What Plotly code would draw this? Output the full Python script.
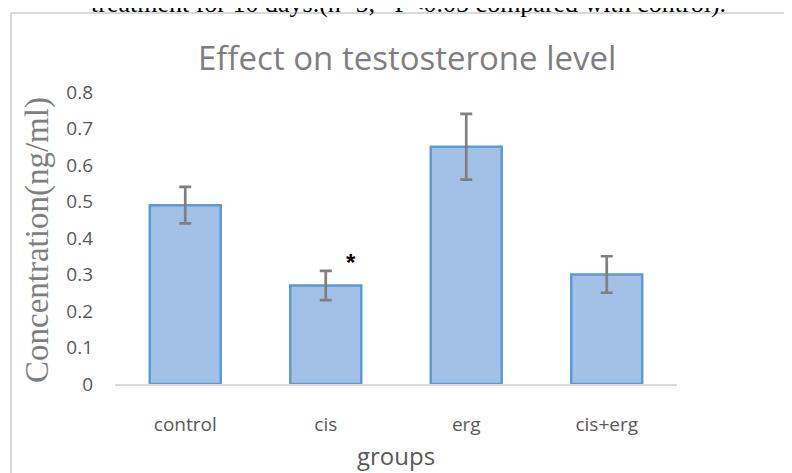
import plotly.graph_objects as go

groups = ["control", "cis", "erg", "cis+erg"]
values = [0.49, 0.27, 0.65, 0.30]
errors = [0.05, 0.04, 0.09, 0.05]
y_ticks = [0, 0.1, 0.2, 0.3, 0.4, 0.5, 0.6, 0.7, 0.8]
y_tick_labels = ["0", "0.1", "0.2", "0.3", "0.4", "0.5", "0.6", "0.7", "0.8"]

W, H = 792, 473
OFF = 8  # page body margin
L, T = 107, 84
pw, ph = 562, 292
R = W - L - pw
B = H - T - ph

def px(x):
    return (x - OFF - L) / pw

def py(y):
    return (T + ph + OFF - y) / ph

fig = go.Figure(go.Bar(
    x=groups, y=values,
    width=0.505,
    marker=dict(color="#a3c1e7", line=dict(color="#5b9bd5", width=2.5)),
    error_y=dict(type="data", array=errors, color="#7f7f7f", thickness=2.7, width=6),
))

fig.update_layout(
    width=W, height=H,
    margin=dict(l=L, r=R, t=T, b=B, autoexpand=False),
    paper_bgcolor="white", plot_bgcolor="white",
    showlegend=False,
    font=dict(family="Open Sans", color="#595959"),
    xaxis=dict(showline=True, linecolor="#d9d9d9", linewidth=2, showgrid=False,
               ticks="", tickfont=dict(size=19, color="#595959"), ticklabelstandoff=22),
    yaxis=dict(range=[0, 0.8], tickvals=y_ticks, ticktext=y_tick_labels,
               showgrid=False, zeroline=False, showline=False,
               tickfont=dict(size=19, color="#595959"), ticks="", ticklabelstandoff=21),
)

fig.add_annotation(x="cis", y=values[1] + errors[1] + 0.023, text="<b>*</b>", showarrow=False,
                   xshift=25, font=dict(family="Liberation Sans", size=24, color="black"))

fig.add_annotation(xref="paper", yref="paper", x=px(407), y=py(57), text="Effect on testosterone level",
                   showarrow=False, xanchor="center", yanchor="middle",
                   font=dict(family="Open Sans", size=33, color="#7f7f7f"))

fig.add_annotation(xref="paper", yref="paper", x=px(396), y=py(455), text="groups",
                   showarrow=False, xanchor="center", yanchor="middle",
                   font=dict(family="Open Sans", size=24, color="#595959"))

fig.add_annotation(xref="paper", yref="paper", x=px(37), y=py(240), text="Concentration(ng/ml)",
                   showarrow=False, textangle=-90, xanchor="center", yanchor="middle",
                   font=dict(family="Liberation Serif", size=33, color="#7f7f7f"))

fig.add_annotation(xref="paper", yref="paper", x=px(408), y=py(4),
                   text="treatment for 10 days.(n=5, *P<0.05 compared with control).",
                   showarrow=False, xanchor="center", yanchor="middle",
                   font=dict(family="Liberation Serif", size=26, color="black"))

fig.add_shape(type="line", xref="paper", yref="paper", x0=px(11), x1=px(11), y0=py(13), y1=py(490),
              line=dict(color="#d9d9d9", width=2))
fig.add_shape(type="line", xref="paper", yref="paper", x0=px(11), x1=px(810), y0=py(13), y1=py(13),
              line=dict(color="#d9d9d9", width=2))

fig.write_html("out.html")
